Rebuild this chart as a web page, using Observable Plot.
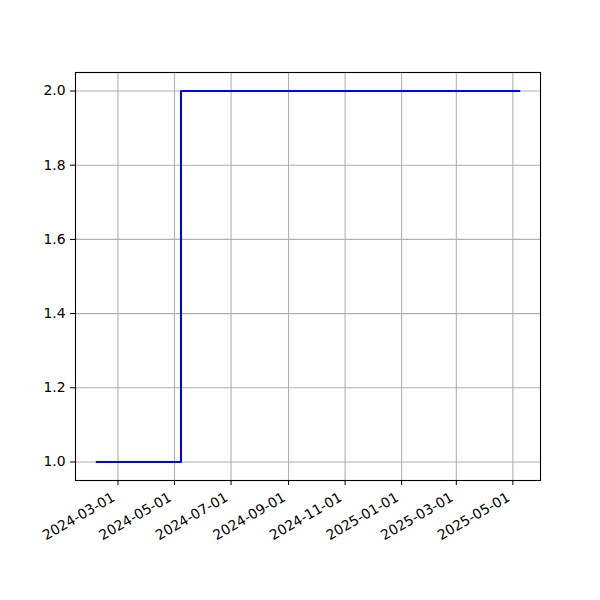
<!DOCTYPE html>
<html>
<head>
<meta charset="utf-8">
<script src="https://cdn.jsdelivr.net/npm/d3@7"></script>
<script src="https://cdn.jsdelivr.net/npm/@observablehq/plot@0.6"></script>
<style>
  html, body { margin: 0; padding: 0; background: #fff; }
  #chart { width: 600px; height: 600px; }
</style>
</head>
<body>
<div id="chart"></div>
<script>
// Data
const dates = ["2024-02-07", "2024-05-08", "2025-05-08"];
const values = [1.0, 2.0, 2.0];
const xTickLabels = ["2024-03-01", "2024-05-01", "2024-07-01", "2024-09-01",
                     "2024-11-01", "2025-01-01", "2025-03-01", "2025-05-01"];
const yTicks = [1.0, 1.2, 1.4, 1.6, 1.8, 2.0];

const parse = d3.utcParse("%Y-%m-%d");
const data = dates.map((d, i) => ({date: parse(d), value: values[i]}));
const xTickDates = xTickLabels.map(parse);

// matplotlib-like 5% margins
const [x0, x1] = d3.extent(data, d => d.date);
const xpad = (x1 - x0) * 0.05;
const [y0, y1] = d3.extent(values);
const ypad = (y1 - y0) * 0.05;

const FS = 13.9;

const chart = Plot.plot({
  width: 600,
  height: 600,
  marginLeft: 75,
  marginRight: 60,
  marginTop: 72,
  marginBottom: 120,
  style: {fontFamily: "DejaVu Sans", fontSize: FS + "px", color: "black", background: "white"},
  x: {type: "utc", domain: [new Date(+x0 - xpad), new Date(+x1 + xpad)]},
  y: {domain: [y0 - ypad, y1 + ypad]},
  marks: [
    Plot.gridX(xTickDates, {stroke: "#b0b0b0", strokeOpacity: 1, strokeWidth: 1.1}),
    Plot.gridY(yTicks, {stroke: "#b0b0b0", strokeOpacity: 1, strokeWidth: 1.1}),
    Plot.line(data, {x: "date", y: "value", curve: "step-after", stroke: "#0000ff", strokeWidth: 2}),
    Plot.frame({stroke: "black", strokeWidth: 1.1}),
    // tick marks only
    Plot.axisX(xTickDates, {tickFormat: () => "", tickSize: 5, label: null}),
    // rotated labels (matplotlib autofmt_xdate style: 30°, right aligned)
    Plot.text(xTickDates, {
      x: d => d,
      text: d3.utcFormat("%Y-%m-%d"),
      frameAnchor: "bottom",
      rotate: -30,
      textAnchor: "end",
      lineAnchor: "top",
      dx: -7,
      dy: 11,
      fontSize: FS,
      fill: "black"
    }),
    Plot.axisY(yTicks, {tickFormat: d3.format(".1f"), tickSize: 5, tickPadding: 5, fontSize: FS, label: null})
  ]
});
document.getElementById("chart").appendChild(chart);
</script>
</body>
</html>
